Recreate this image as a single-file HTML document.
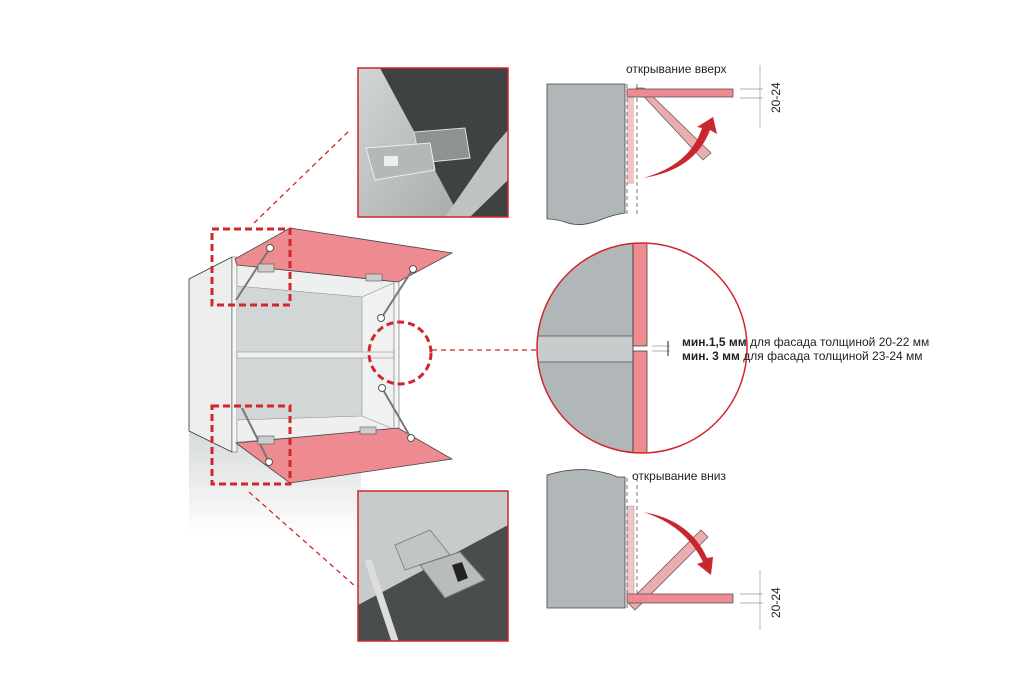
<!DOCTYPE html>
<html><head><meta charset="utf-8"><style>
html,body{margin:0;padding:0;background:#fff;}
svg{display:block;}
text{font-family:"Liberation Sans",sans-serif;fill:#222;}
</style></head><body>
<svg width="1020" height="685" viewBox="0 0 1020 685" xmlns="http://www.w3.org/2000/svg">
<defs>
<linearGradient id="sh" x1="0" y1="0" x2="0" y2="1"><stop offset="0" stop-color="#d6d9da"/><stop offset="1" stop-color="#fff"/></linearGradient>
<linearGradient id="ph1" x1="0" y1="0" x2="1" y2="1"><stop offset="0" stop-color="#d2d5d6"/><stop offset="1" stop-color="#a9acad"/></linearGradient>
<clipPath id="cc"><circle cx="642" cy="348" r="105"/></clipPath>
</defs>

<rect x="189" y="430" width="172" height="105" fill="url(#sh)"/>
<polygon points="189,279 232,257 232,452 189,431" fill="#eceeee" stroke="#333" stroke-width="0.8"/>
<rect x="232" y="257" width="5" height="195" fill="#f4f5f5" stroke="#666" stroke-width="0.6"/>
<rect x="237" y="280" width="125" height="155" fill="#d3d6d7"/>
<polygon points="237,264 396,282 362,297 237,286" fill="#eef0f0" stroke="#888" stroke-width="0.5"/>
<polygon points="237,420 362,416 396,430 237,442" fill="#eef0f0" stroke="#888" stroke-width="0.5"/>
<polygon points="362,297 396,282 396,430 362,416" fill="#f0f1f1" stroke="#888" stroke-width="0.5"/>
<rect x="237" y="352" width="160" height="6" fill="#eef0f0" stroke="#888" stroke-width="0.5"/>
<rect x="394" y="280" width="5" height="152" fill="#f4f5f5" stroke="#666" stroke-width="0.6"/>
<polygon points="235,259 290,228 452,253 398,282 237,265" fill="#ee8b90" stroke="#444" stroke-width="0.8"/>
<polygon points="236,443 398,428 452,459 290,483" fill="#ee8b90" stroke="#444" stroke-width="0.8"/>
<line x1="270" y1="248" x2="236" y2="300" stroke="#777" stroke-width="2"/>
<circle cx="270" cy="248" r="3.5" fill="#fff" stroke="#555"/>
<line x1="413" y1="269" x2="382" y2="317" stroke="#777" stroke-width="2"/>
<circle cx="413" cy="269" r="3.5" fill="#fff" stroke="#555"/>
<circle cx="381" cy="318" r="3.5" fill="#fff" stroke="#555"/>
<line x1="242" y1="408" x2="269" y2="462" stroke="#777" stroke-width="2"/>
<circle cx="269" cy="462" r="3.5" fill="#fff" stroke="#555"/>
<line x1="382" y1="388" x2="411" y2="438" stroke="#777" stroke-width="2"/>
<circle cx="382" cy="388" r="3.5" fill="#fff" stroke="#555"/>
<circle cx="411" cy="438" r="3.5" fill="#fff" stroke="#555"/>
<rect x="258" y="264" width="16" height="8" fill="#ccc" stroke="#555" stroke-width="0.6"/>
<rect x="366" y="274" width="16" height="7" fill="#ccc" stroke="#555" stroke-width="0.6"/>
<rect x="258" y="436" width="16" height="8" fill="#ccc" stroke="#555" stroke-width="0.6"/>
<rect x="360" y="427" width="16" height="7" fill="#ccc" stroke="#555" stroke-width="0.6"/>

<g fill="none" stroke="#d0262c" stroke-width="3" stroke-dasharray="7,4">
<rect x="212" y="229" width="78" height="76"/>
<rect x="212" y="406" width="78" height="78"/>
<circle cx="400" cy="353" r="31"/>
</g>
<g stroke="#d0262c" stroke-width="1.3" stroke-dasharray="5,4">
<line x1="432" y1="350" x2="540" y2="350"/>
<line x1="254" y1="223" x2="350" y2="130"/>
<line x1="249" y1="492" x2="356" y2="587"/>
</g>

<g>
<rect x="358" y="68" width="150" height="149" fill="#3f4243"/>
<polygon points="358,68 380,68 460,217 358,217" fill="url(#ph1)"/>
<polygon points="495,145 508,130 508,180 470,217 445,217" fill="#bfc2c3"/>
<polygon points="414,132 465,128 470,158 420,163" fill="#8e9293" stroke="#ddd"/>
<polygon points="366,148 430,143 435,170 375,180" fill="#b5b8b9" stroke="#eee"/>
<rect x="384" y="156" width="14" height="10" fill="#eee"/>
<rect x="358" y="68" width="150" height="149" fill="none" stroke="#d0262c" stroke-width="1.5"/>
</g>
<g>
<rect x="358" y="491" width="150" height="150" fill="#c8cbcc"/>
<polygon points="358,605 508,525 508,641 358,641" fill="#4a4d4e"/>
<line x1="368" y1="560" x2="395" y2="641" stroke="#ddd" stroke-width="7"/>
<polygon points="395,545 430,530 450,555 405,570" fill="#c2c5c6" stroke="#888"/>
<polygon points="420,565 460,552 485,580 445,598" fill="#b9bcbd" stroke="#777"/>
<polygon points="452,565 462,562 468,578 458,582" fill="#222"/>
<rect x="358" y="491" width="150" height="150" fill="none" stroke="#d0262c" stroke-width="1.5"/>
</g>

<text x="626" y="73" font-size="12">открывание вверх</text>
<path d="M547,84 L625,84 L625,213 Q612,215 600,220 Q580,228 565,222 Q555,219 547,219 Z" fill="#b1b6b8" stroke="#444" stroke-width="0.8"/>
<rect x="627" y="96" width="7" height="88" fill="#f2c4c6"/>
<path d="M627,84 V216 M637,84 V216" stroke="#555" stroke-width="0.8" stroke-dasharray="4,3"/>
<polygon points="636,88 644,88 711,153 703,160" fill="#ebacae" stroke="#666" stroke-width="0.8"/>
<rect x="627" y="89" width="106" height="8" fill="#ee8b90" stroke="#555" stroke-width="0.8"/>
<path d="M643,178 Q690,165 702,128 L697,127 L713,117 L717,134 L710,130 Q695,170 643,178 Z" fill="#c8272d"/>
<g stroke="#999" stroke-width="0.7">
<line x1="740" y1="89" x2="763" y2="89"/><line x1="740" y1="98" x2="763" y2="98"/>
<line x1="760" y1="65" x2="760" y2="128"/>
</g>
<text x="0" y="0" font-size="12" transform="translate(780,113) rotate(-90)">20-24</text>

<circle cx="642" cy="348" r="105" fill="#fff"/>
<g clip-path="url(#cc)">
<rect x="530" y="240" width="103" height="220" fill="#b1b6b8"/>
<rect x="530" y="336" width="103" height="26" fill="#c8cccd" stroke="#555" stroke-width="0.8"/>
<rect x="633" y="240" width="14" height="106" fill="#ee8b90" stroke="#444" stroke-width="0.8"/>
<rect x="633" y="351" width="14" height="110" fill="#ee8b90" stroke="#444" stroke-width="0.8"/>
<line x1="633" y1="240" x2="633" y2="460" stroke="#444" stroke-width="0.8"/>
</g>
<circle cx="642" cy="348" r="105" fill="none" stroke="#d0262c" stroke-width="1.5"/>
<g stroke="#999" stroke-width="0.7"><line x1="652" y1="346" x2="670" y2="346"/><line x1="652" y1="351" x2="670" y2="351"/></g>
<line x1="668" y1="341" x2="668" y2="356" stroke="#222" stroke-width="1"/>
<text x="682" y="346" font-size="12"><tspan font-weight="bold">мин.1,5 мм</tspan> для фасада толщиной 20-22 мм</text>
<text x="682" y="360" font-size="12"><tspan font-weight="bold">мин. 3 мм</tspan> для фасада толщиной 23-24 мм</text>

<text x="632" y="480" font-size="12">открывание вниз</text>
<path d="M547,475 Q570,468 590,470 Q610,473 617,477 L625,477 L625,608 L547,608 Z" fill="#b1b6b8" stroke="#444" stroke-width="0.8"/>
<rect x="627" y="506" width="7" height="90" fill="#f2c4c6" stroke="#999" stroke-width="0.5"/>
<path d="M627,478 V608 M637,478 V608" stroke="#555" stroke-width="0.8" stroke-dasharray="4,3"/>
<polygon points="628,603 701,530 708,537 635,610" fill="#ebacae" stroke="#666" stroke-width="0.8"/>
<rect x="627" y="594" width="106" height="9" fill="#ee8b90" stroke="#555" stroke-width="0.8"/>
<path d="M643,512 Q690,520 707,558 L713,557 L711,575 L697,564 L703,562 Q685,525 643,512 Z" fill="#c8272d"/>
<g stroke="#999" stroke-width="0.7">
<line x1="740" y1="594" x2="763" y2="594"/><line x1="740" y1="603" x2="763" y2="603"/>
<line x1="760" y1="570" x2="760" y2="630"/>
</g>
<text x="0" y="0" font-size="12" transform="translate(780,618) rotate(-90)">20-24</text>
</svg>
</body></html>
